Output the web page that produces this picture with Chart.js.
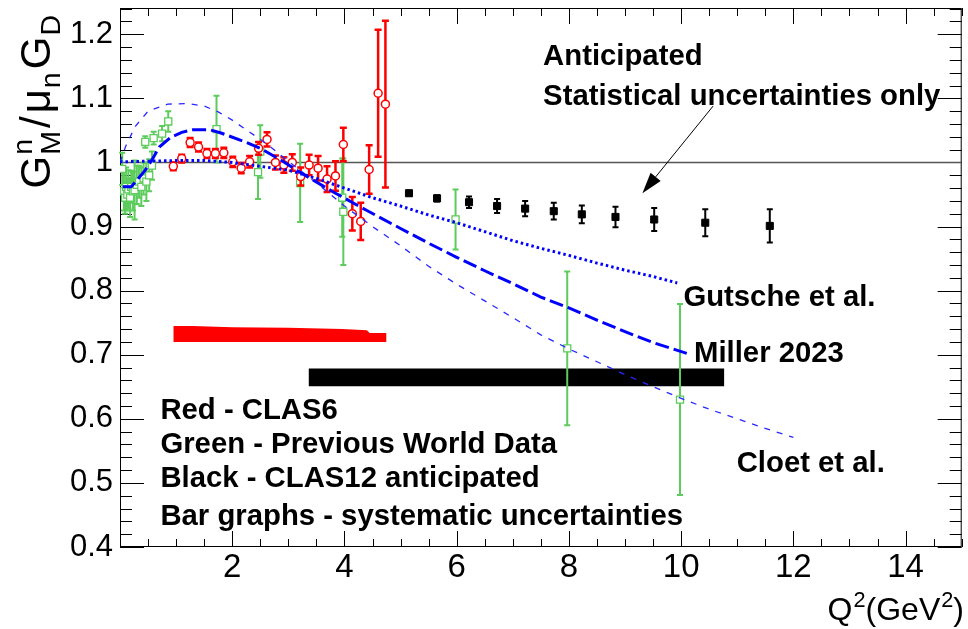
<!DOCTYPE html>
<html>
<head>
<meta charset="utf-8">
<script src="https://cdn.jsdelivr.net/npm/chart.js@4.4.1/dist/chart.umd.min.js"></script>
<style>
  html, body { margin: 0; padding: 0; background: #fff; }
  canvas { display: block; }
</style>
</head>
<body>
<canvas id="c" width="968" height="629"></canvas>
<script>
// ---- axis ticks ----
const xTickValues = [2, 4, 6, 8, 10, 12, 14];
const yTickValues = [0.4, 0.5, 0.6, 0.7, 0.8, 0.9, 1.0, 1.1, 1.2];

// ---- previous world data (green) ----
const worldQ2  = [0.04, 0.07, 0.09, 0.11, 0.13, 0.15, 0.18, 0.20, 0.23, 0.26, 0.30, 0.34, 0.38, 0.42, 0.47, 0.52, 0.57,
                  0.45, 0.60, 0.75, 0.86, 1.72, 2.46, 2.50, 3.21, 3.96, 3.98, 5.98, 7.97, 9.98];
const worldG   = [0.990, 0.955, 0.945, 0.962, 0.950, 0.958, 0.945, 0.962, 0.955, 0.957, 0.965, 0.970, 0.962, 0.975, 0.970, 0.980, 0.995,
                  1.032, 1.038, 1.045, 1.064, 1.052, 0.985, 1.017, 0.968, 0.945, 0.923, 0.911, 0.710, 0.630];
const worldErr = [0.025, 0.030, 0.025, 0.030, 0.025, 0.030, 0.030, 0.025, 0.030, 0.046, 0.030, 0.025, 0.030, 0.025, 0.030, 0.025, 0.022,
                  0.009, 0.010, 0.012, 0.016, 0.052, 0.042, 0.041, 0.061, 0.061, 0.083, 0.047, 0.120, 0.149];

// ---- CLAS6 (red) ----
const clas6Q2  = [0.95, 1.10, 1.25, 1.40, 1.55, 1.70, 1.85, 2.01, 2.16, 2.31, 2.47, 2.62, 2.77, 2.92, 3.07, 3.22, 3.37, 3.53, 3.69, 3.84, 3.98, 4.14, 4.29, 4.44, 4.60, 4.73];
const clas6G   = [0.994, 1.006, 1.031, 1.024, 1.014, 1.014, 1.015, 1.001, 0.991, 1.001, 1.022, 1.036, 1.000, 0.996, 1.000, 0.978, 0.996, 0.991, 0.974, 0.979, 1.028, 0.920, 0.908, 0.989, 1.108, 1.091];
const clas6Err = [0.006, 0.006, 0.007, 0.007, 0.007, 0.007, 0.008, 0.008, 0.008, 0.009, 0.010, 0.011, 0.011, 0.012, 0.013, 0.014, 0.016, 0.019, 0.020, 0.023, 0.026, 0.026, 0.029, 0.038, 0.099, 0.130];

// ---- CLAS12 anticipated (black) ----
const clas12Q2  = [5.15, 5.65, 6.22, 6.72, 7.22, 7.73, 8.23, 8.83, 9.52, 10.43, 11.58];
const clas12G   = [0.952, 0.944, 0.938, 0.932, 0.928, 0.924, 0.919, 0.915, 0.911, 0.906, 0.901];
const clas12Err = [0.004, 0.005, 0.009, 0.011, 0.012, 0.013, 0.014, 0.016, 0.018, 0.021, 0.026];

// ---- systematic uncertainty bands ----
const clas6SysQ2   = [0.95, 1.30, 2.00, 3.00, 3.96, 4.40, 4.45, 4.75];
const clas6SysLow  = [0.720, 0.720, 0.720, 0.720, 0.720, 0.720, 0.720, 0.720];
const clas6SysHigh = [0.745, 0.745, 0.743, 0.742, 0.740, 0.738, 0.734, 0.734];
const clas12SysQ2   = [3.36, 10.77];
const clas12SysLow  = [0.651, 0.651];
const clas12SysHigh = [0.6785, 0.6785];

// ---- model curves ----
const gutscheQ2 = [0, 0.5, 1, 1.5, 2, 2.5, 3, 3.5, 4, 4.5, 5, 5.5, 6, 6.5, 7, 7.5, 8, 8.5, 9, 9.5, 9.93];
const gutscheG  = [1.001, 1.002, 1.003, 1.003, 1.000, 0.994, 0.988, 0.975, 0.960, 0.945, 0.932, 0.918, 0.906, 0.892, 0.878, 0.866, 0.855, 0.843, 0.832, 0.822, 0.812];

const millerQ2 = [0.05, 0.2, 0.3, 0.45, 0.57, 0.7, 0.9, 1.1, 1.3, 1.6, 1.8, 2.2, 2.5, 2.9, 3.2, 3.8, 4.4, 5.0, 5.5, 6.0, 6.5, 7.0, 7.5, 8.0, 8.5, 9.0, 9.5, 10.1];
const millerG  = [0.962, 0.962, 0.972, 0.988, 1.004, 1.024, 1.039, 1.047, 1.051, 1.051, 1.046, 1.033, 1.022, 1.002, 0.985, 0.954, 0.925, 0.897, 0.874, 0.852, 0.831, 0.811, 0.790, 0.773, 0.754, 0.736, 0.719, 0.702];

const cloetQ2 = [0, 0.1, 0.27, 0.5, 0.85, 1.2, 1.5, 1.75, 2.0, 2.3, 2.6, 3.0, 3.5, 4.0, 4.5, 5.0, 5.5, 6.0, 6.5, 7.0, 7.5, 8.0, 8.5, 9.0, 9.5, 10.0, 10.5, 11.0, 11.5, 12.0];
const cloetG  = [1.000, 1.025, 1.056, 1.080, 1.091, 1.092, 1.088, 1.079, 1.066, 1.048, 1.030, 1.002, 0.968, 0.932, 0.900, 0.870, 0.838, 0.810, 0.784, 0.758, 0.731, 0.709, 0.689, 0.669, 0.650, 0.632, 0.615, 0.600, 0.585, 0.571];

// reference line at unity
const unityQ2 = [0, 15];
const unityG  = [1, 1];

const FONT = '"Liberation Sans", Arial, Helvetica, sans-serif';
const GREEN = 'rgb(92,204,92)';
const RED = '#ff0000';
const BLUE = '#0000ff';

const pts = (xs, ys) => xs.map((v, i) => ({ x: v, y: ys[i] }));

// text placed in data coordinates (left edge, baseline)
const notes = [
  { text: 'Anticipated', q2: 7.54, g: 1.152 },
  { text: 'Statistical uncertainties only', q2: 7.54, g: 1.090 },
  { text: 'Gutsche et al.', q2: 10.04, g: 0.776 },
  { text: 'Miller 2023', q2: 10.23, g: 0.688 },
  { text: 'Cloet et al.', q2: 10.99, g: 0.517 },
  { text: 'Red - CLAS6', q2: 0.72, g: 0.599 },
  { text: 'Green - Previous World Data', q2: 0.72, g: 0.546 },
  { text: 'Black - CLAS12 anticipated', q2: 0.72, g: 0.493 },
  { text: 'Bar graphs - systematic uncertainties', q2: 0.72, g: 0.435 }
];
const arrowNote = { from: { q2: 10.57, g: 1.088 }, to: { q2: 9.31, g: 0.952 } };

// vertical error bars with end caps, drawn just under each dataset's markers
const errorBars = {
  id: 'errorBars',
  beforeDatasetDraw(chart, args) {
    const ds = chart.data.datasets[args.index];
    if (!ds.yErr) return;
    const { ctx, scales: { x, y } } = chart;
    ctx.save();
    ctx.strokeStyle = ds.errColor;
    ctx.lineWidth = ds.errWidth;
    const cap = ds.capHalf;
    ds.data.forEach((p, i) => {
      const px = x.getPixelForValue(p.x);
      const top = y.getPixelForValue(p.y + ds.yErr[i]);
      const bot = y.getPixelForValue(p.y - ds.yErr[i]);
      ctx.beginPath();
      ctx.moveTo(px, top); ctx.lineTo(px, bot);
      ctx.moveTo(px - cap, top); ctx.lineTo(px + cap, top);
      ctx.moveTo(px - cap, bot); ctx.lineTo(px + cap, bot);
      ctx.stroke();
    });
    ctx.restore();
  }
};

// frame with inward ticks on all four sides
const frame = {
  id: 'frame',
  beforeDatasetsDraw(chart) {
    const { ctx, chartArea: a, scales: { x, y } } = chart;
    ctx.save();
    ctx.strokeStyle = '#000';
    ctx.lineWidth = 1;
    ctx.beginPath();
    for (let k = 0; k <= 30; k++) {
      const v = k * 0.5;
      const len = (k % 4 === 0) ? 16 : 8;
      const px = Math.round(x.getPixelForValue(v)) + 0.5;
      ctx.moveTo(px, a.bottom); ctx.lineTo(px, a.bottom - len);
      ctx.moveTo(px, a.top); ctx.lineTo(px, a.top + len);
    }
    for (let k = 0; k <= 42; k++) {
      const v = 0.4 + k * 0.02;
      const len = (k % 5 === 0) ? 24 : 12;
      const py = Math.round(y.getPixelForValue(v)) + 0.5;
      ctx.moveTo(a.left, py); ctx.lineTo(a.left + len, py);
      ctx.moveTo(a.right, py); ctx.lineTo(a.right - len, py);
    }
    ctx.stroke();
    ctx.strokeRect(a.left + 0.5, a.top + 0.5, a.right - a.left - 1, a.bottom - a.top - 1);
    ctx.restore();
  }
};

// draws a run of glyphs with optional super/subscripts; returns total width
function richText(ctx, items, size, draw, gap) {
  let cx = 0;
  const small = size * 0.68;
  items.forEach(it => {
    ctx.font = size + 'px ' + FONT;
    const w = ctx.measureText(it.base).width;
    if (draw) ctx.fillText(it.base, cx, 0);
    cx += w;
    let extra = 0;
    ctx.font = small + 'px ' + FONT;
    if (it.sup) {
      if (draw) ctx.fillText(it.sup, cx + 1, -size * 0.42);
      extra = Math.max(extra, ctx.measureText(it.sup).width + 1);
    }
    if (it.sub) {
      if (draw) ctx.fillText(it.sub, cx + 1, size * 0.24);
      extra = Math.max(extra, ctx.measureText(it.sub).width + 1);
    }
    cx += extra + (gap || 0);
  });
  return cx;
}

const texts = {
  id: 'texts',
  afterDraw(chart) {
    const { ctx, scales: { x, y } } = chart;
    ctx.save();
    ctx.fillStyle = '#000';
    ctx.textAlign = 'left';
    ctx.textBaseline = 'alphabetic';
    ctx.font = 'bold 29.3px ' + FONT;
    notes.forEach(n => ctx.fillText(n.text, x.getPixelForValue(n.q2), y.getPixelForValue(n.g)));

    // arrow toward the anticipated points
    const x0 = x.getPixelForValue(arrowNote.from.q2), y0 = y.getPixelForValue(arrowNote.from.g);
    const x1 = x.getPixelForValue(arrowNote.to.q2), y1 = y.getPixelForValue(arrowNote.to.g);
    const ang = Math.atan2(y1 - y0, x1 - x0);
    const hl = 21, hw = 6.5;
    const bx = x1 - hl * Math.cos(ang), by = y1 - hl * Math.sin(ang);
    ctx.strokeStyle = '#000';
    ctx.lineWidth = 1;
    ctx.beginPath(); ctx.moveTo(x0, y0); ctx.lineTo(bx, by); ctx.stroke();
    ctx.beginPath();
    ctx.moveTo(x1, y1);
    ctx.lineTo(bx + hw * Math.sin(ang), by - hw * Math.cos(ang));
    ctx.lineTo(bx - hw * Math.sin(ang), by + hw * Math.cos(ang));
    ctx.closePath(); ctx.fill();

    // x-axis title, right aligned at the frame edge
    const xTitle = [{ base: 'Q', sup: '2' }, { base: '(GeV', sup: '2' }, { base: ')' }];
    const xs = 32;
    const xw = richText(ctx, xTitle, xs, false, 0);
    ctx.save();
    ctx.translate(964 - xw, 620);
    richText(ctx, xTitle, xs, true, 0);
    ctx.restore();

    // y-axis title, rotated, ending at the top of the frame
    const yTitle = [{ base: 'G', sup: 'n', sub: 'M' }, { base: '/' }, { base: '\u03bc', sub: 'n' }, { base: 'G', sub: 'D' }];
    const ys = 42;
    const yw = richText(ctx, yTitle, ys, false, 3);
    ctx.save();
    ctx.translate(50, 12 + yw);
    ctx.rotate(-Math.PI / 2);
    richText(ctx, yTitle, ys, true, 3);
    ctx.restore();
    ctx.restore();
  }
};

const curve = (label, xs, ys, dash, width, color) => ({
  label, data: pts(xs, ys), showLine: true, pointRadius: 0, borderColor: color,
  borderWidth: width, borderDash: dash, fill: false, order: 1
});

new Chart(document.getElementById('c'), {
  type: 'line',
  data: {
    datasets: [
      { label: 'unity', data: pts(unityQ2, unityG), borderColor: '#555', borderWidth: 1.5, pointRadius: 0, fill: false, order: 9 },
      { label: 'CLAS6 sys low', data: pts(clas6SysQ2, clas6SysLow), borderWidth: 0, pointRadius: 0, fill: false, order: 8 },
      { label: 'CLAS6 sys', data: pts(clas6SysQ2, clas6SysHigh), borderWidth: 0, pointRadius: 0, backgroundColor: RED, fill: '-1', order: 8 },
      { label: 'CLAS12 sys low', data: pts(clas12SysQ2, clas12SysLow), borderWidth: 0, pointRadius: 0, fill: false, order: 8 },
      { label: 'CLAS12 sys', data: pts(clas12SysQ2, clas12SysHigh), borderWidth: 0, pointRadius: 0, backgroundColor: '#000', fill: '-1', order: 8 },
      { label: 'Previous World Data', data: pts(worldQ2, worldG), showLine: false, pointStyle: 'rect', pointRadius: 5,
        borderColor: GREEN, backgroundColor: '#fff', pointBorderWidth: 1.3, yErr: worldErr, errColor: GREEN, errWidth: 2, capHalf: 3, order: 6 },
      { label: 'CLAS6', data: pts(clas6Q2, clas6G), showLine: false, pointStyle: 'circle', pointRadius: 4,
        borderColor: RED, backgroundColor: '#fff', pointBorderWidth: 1.5, yErr: clas6Err, errColor: RED, errWidth: 2.5, capHalf: 3.5, order: 5 },
      { label: 'CLAS12 anticipated', data: pts(clas12Q2, clas12G), showLine: false, pointStyle: 'rect', pointRadius: 5,
        borderColor: '#000', backgroundColor: '#000', pointBorderWidth: 1, yErr: clas12Err, errColor: '#000', errWidth: 2, capHalf: 3, order: 4 },
      curve('Gutsche et al.', gutscheQ2, gutscheG, [2.5, 3], 3, BLUE),
      curve('Miller 2023', millerQ2, millerG, [14, 5], 3, BLUE),
      curve('Cloet et al.', cloetQ2, cloetG, [6, 7], 1.3, '#2828ff')
    ]
  },
  options: {
    responsive: false,
    animation: false,
    devicePixelRatio: 1,
    layout: { padding: { top: 8, right: 2, left: 0, bottom: 0 } },
    plugins: { legend: { display: false }, tooltip: { enabled: false } },
    elements: { line: { tension: 0 } },
    scales: {
      x: {
        type: 'linear', min: 0, max: 15,
        grid: { display: false, drawTicks: false }, border: { display: false },
        ticks: { font: { family: FONT, size: 33 }, color: '#000', padding: 1, maxRotation: 0,
                 callback: v => String(v) },
        afterBuildTicks: s => { s.ticks = xTickValues.map(v => ({ value: v })); },
        afterFit: s => { s.height = 82; s.paddingLeft = 0; s.paddingRight = 0; }
      },
      y: {
        type: 'linear', min: 0.4, max: 1.241,
        grid: { display: false, drawTicks: false }, border: { display: false },
        ticks: { font: { family: FONT, size: 31 }, color: '#000', padding: 7,
                 callback: v => String(+v.toFixed(2)) },
        afterBuildTicks: s => { s.ticks = yTickValues.map(v => ({ value: v })); },
        afterFit: s => { s.width = 120; s.paddingTop = 0; s.paddingBottom = 0; }
      }
    }
  },
  plugins: [errorBars, frame, texts]
});
</script>
</body>
</html>
